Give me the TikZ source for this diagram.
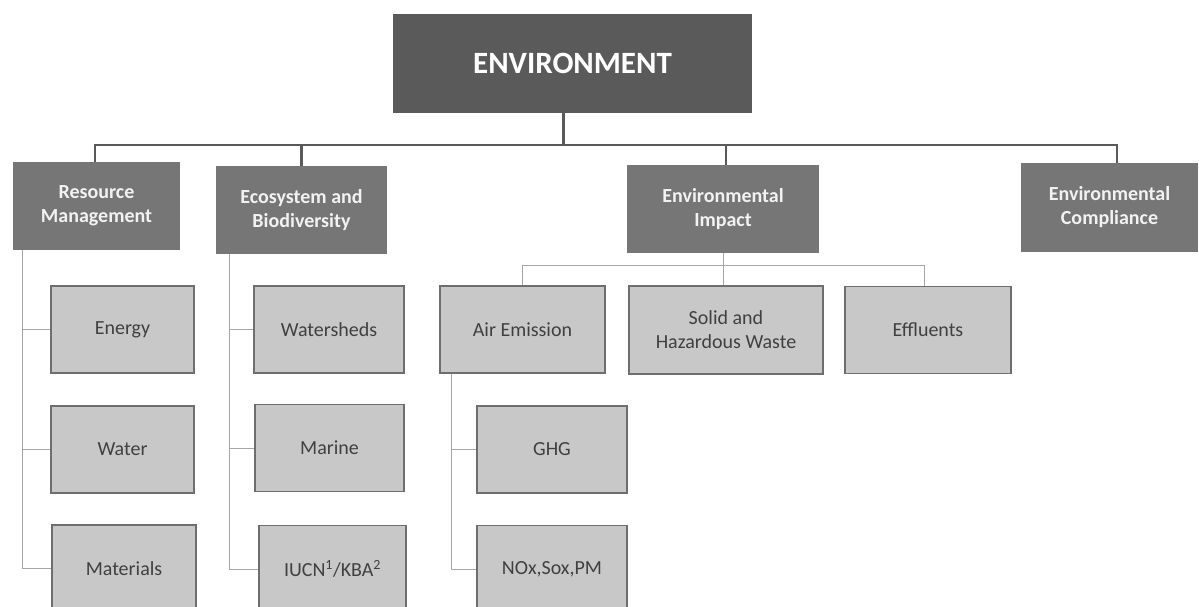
\documentclass[tikz,border=0pt]{standalone}
\usepackage{fontspec}
\setmainfont{Carlito}
\definecolor{topgray}{HTML}{5A5A5A}
\definecolor{midgray}{HTML}{767676}
\definecolor{lightbox}{HTML}{C8C8C8}
\definecolor{lightedge}{HTML}{6E6E6E}
\definecolor{bustone}{HTML}{5A5A5A}
\definecolor{subtone}{HTML}{A6A6A6}
\definecolor{darktext}{HTML}{404040}
\tikzset{
  topbox/.style={fill=topgray, draw=none, text=white, font=\fontsize{31}{36}\selectfont\bfseries,
    minimum width=359pt, minimum height=99pt, inner sep=0pt},
  catbox/.style={fill=midgray, draw=none, text=white!95!black, font=\fontsize{20}{24}\selectfont\bfseries,
    align=center, minimum height=88pt, inner sep=0pt},
  leafbox/.style={fill=lightbox, draw=lightedge, line width=1.4pt, text=darktext,
    font=\fontsize{20}{24}\selectfont, align=center, minimum height=87pt, inner sep=0pt},
  busline/.style={draw=bustone, line width=2.2pt},
  subline/.style={draw=subtone, line width=1pt},
}
\begin{document}
\begin{tikzpicture}[x=1pt,y=-1pt]
\useasboundingbox (0,0) rectangle (1199,607);
\clip (0,0) rectangle (1199,607);
\fill[white] (0,0) rectangle (1199,607);

% top
\node[topbox] (env) at (572.5,63.5) {ENVIRONMENT};

% categories
\node[catbox, minimum width=167pt] (rm) at (96.5,206) {Resource\\Management};
\node[catbox, minimum width=171pt] (eb) at (301.5,210) {Ecosystem and\\Biodiversity};
\node[catbox, minimum width=192pt] (ei) at (723,209) {Environmental\\Impact};
\node[catbox, minimum width=177pt, minimum height=89pt] (ec) at (1109.5,207.5) {Environmental\\Compliance};

% leaves: resource management
\node[leafbox, minimum width=143pt] (energy) at (122.5,329.5) {Energy};
\node[leafbox, minimum width=143pt] (water) at (122.5,449.5) {Water};
\node[leafbox, minimum width=144pt] (materials) at (124,568.5) {Materials};

% leaves: ecosystem
\node[leafbox, minimum width=150pt] (watersheds) at (329,329.5) {Watersheds};
\node[leafbox, minimum width=149pt] (marine) at (329.5,448) {Marine};
\node[leafbox, minimum width=147pt] (iucn) at (332.5,569) {IUCN\textsuperscript{1}/KBA\textsuperscript{2}};

% leaves: impact
\node[leafbox, minimum width=165pt] (air) at (522.5,329.5) {Air Emission};
\node[leafbox, minimum width=194pt, minimum height=88pt] (solid) at (726,330) {Solid and\\Hazardous Waste};
\node[leafbox, minimum width=166pt] (effl) at (928,330) {Effluents};
\node[leafbox, minimum width=150pt] (ghg) at (552,449.5) {GHG};
\node[leafbox, minimum width=150pt] (nox) at (552,569) {NOx,Sox,PM};

% main bus
\draw[busline] ([xshift=-9pt]env.south) -- ++(0,32) coordinate (b0);
\draw[busline] ([xshift=-1.5pt]rm.north) |- ([xshift=7.5pt]ec.north |- b0) -- ([xshift=7.5pt]ec.north);
\draw[busline] (eb.north) -- (eb.north |- b0);
\draw[busline] ([xshift=3pt]ei.north) -- ([xshift=3pt]ei.north |- b0);

% resource management children
\draw[subline] ([xshift=10pt]rm.south west) |- (energy.west);
\draw[subline] ([xshift=10pt]rm.south west) |- (water.west);
\draw[subline] ([xshift=10pt]rm.south west) |- (materials.west);

% ecosystem children
\draw[subline] ([xshift=14pt]eb.south west) |- (watersheds.west);
\draw[subline] ([xshift=14pt]eb.south west) |- (marine.west);
\draw[subline] ([xshift=14pt]eb.south west) |- (iucn.west);

% impact children
\draw[subline] (ei.south) -- (ei.south |- solid.north);
\draw[subline] (air.north) -- ++(0,-20) -| ([xshift=-4pt]effl.north);

% air emission children
\draw[subline] ([xshift=12pt]air.south west) |- (ghg.west);
\draw[subline] ([xshift=12pt]air.south west) |- (nox.west);
\end{tikzpicture}
\end{document}
